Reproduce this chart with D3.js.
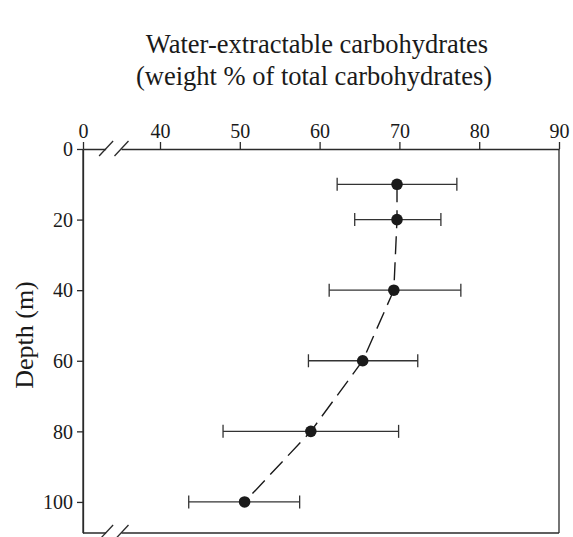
<!DOCTYPE html>
<html><head><meta charset="utf-8">
<script src="https://cdn.jsdelivr.net/npm/d3@7"></script>
<style>body{margin:0;background:#fff}svg{display:block}</style>
</head><body>
<svg id="c" width="573" height="537"></svg>
<script>
// data
const depths = [10, 20, 40, 60, 80, 100];
const means  = [69.7, 69.7, 69.3, 65.4, 58.9, 50.6];
const lows   = [62.2, 64.4, 61.2, 58.6, 47.9, 43.6];
const highs  = [77.2, 75.2, 77.7, 72.3, 69.9, 57.5];
const xTicks = [0, 40, 50, 60, 70, 80, 90];
const yTicks = [0, 20, 40, 60, 80, 100];
const titleLines = ["Water-extractable carbohydrates", "(weight % of total carbohydrates)"];
const yTitle = "Depth (m)";

const svg = d3.select("#c");
const L = 83, R = 559, T = 149, B = 533;
const font = "'Liberation Serif','Times New Roman',serif";
const ink = "#2a2a2a";

// broken x scale: 0 at frame edge, 40..90 linear
const x = d3.scaleLinear().domain([0, 40, 90]).range([L, 160, R]);
const y = d3.scaleLinear().domain([0, 108.8]).range([T, B]);

// title
svg.append("g").selectAll("text").data(titleLines).join("text")
  .attr("x", (d,i)=> i===0 ? 317 : 314)
  .attr("y", (d,i)=> 53 + i*32)
  .attr("text-anchor","middle")
  .attr("font-family", font).attr("font-size", 26.5).attr("fill", "#1a1a1a")
  .text(d=>d);

// y title
svg.append("text")
  .attr("transform", "translate(33,335) rotate(-90)")
  .attr("text-anchor","middle")
  .attr("font-family", font).attr("font-size", 26).attr("fill", "#1a1a1a")
  .text(yTitle);

// frame: left, right, bottom
const frame = svg.append("g").attr("stroke", ink).attr("stroke-width", 1.3).attr("fill","none");
frame.append("line").attr("x1", L).attr("x2", L).attr("y1", T).attr("y2", B);
frame.append("line").attr("x1", R).attr("x2", R).attr("y1", T).attr("y2", B);
frame.append("line").attr("x1", L).attr("x2", R).attr("y1", B).attr("y2", B);

// top axis
const gx = svg.append("g").attr("transform", `translate(0,${T})`)
  .call(d3.axisTop(x).tickValues(xTicks).tickSize(7).tickSizeOuter(0).tickFormat(d3.format("d")));
gx.select(".domain").attr("stroke", ink).attr("stroke-width", 1.3);
gx.selectAll(".tick line").attr("stroke", ink).attr("stroke-width", 1.3);
gx.selectAll(".tick text").attr("font-family", font).attr("font-size", 20).attr("fill", "#1a1a1a").attr("dy", "-0.05em");

// left axis
const gy = svg.append("g").attr("transform", `translate(${L},0)`)
  .call(d3.axisLeft(y).tickValues(yTicks).tickSize(6).tickSizeOuter(0));
gy.select(".domain").attr("stroke", ink).attr("stroke-width", 1.3);
gy.selectAll(".tick line").attr("stroke", ink).attr("stroke-width", 1.3);
gy.selectAll(".tick text").attr("font-family", font).attr("font-size", 20).attr("fill", "#1a1a1a").attr("x", -10).attr("dy", "0.34em");

// axis breaks (top and bottom)
function brk(yy) {
  const g = svg.append("g");
  const a = x(12), b = x(20);
  g.append("rect").attr("x", a).attr("y", yy-3).attr("width", b-a).attr("height", 6).attr("fill", "#fff");
  [a, b].forEach(cx=>{
    g.append("line").attr("x1", cx-7).attr("y1", yy+7).attr("x2", cx+7).attr("y2", yy-8)
      .attr("stroke", ink).attr("stroke-width", 1.3);
  });
}
brk(T); brk(B);

// data
const data = depths.map((d,i)=>({d, m:means[i], lo:lows[i], hi:highs[i]}));

// dashed line
svg.append("path").datum(data)
  .attr("d", d3.line().x(p=>x(p.m)).y(p=>y(p.d)))
  .attr("fill","none").attr("stroke", "#1a1a1a").attr("stroke-width", 1.4)
  .attr("stroke-dasharray", "18,8");

// error bars
const eb = svg.append("g").attr("stroke", "#333").attr("stroke-width", 1.3);
eb.selectAll(".h").data(data).join("line")
  .attr("x1", p=>x(p.lo)).attr("x2", p=>x(p.hi)).attr("y1", p=>y(p.d)).attr("y2", p=>y(p.d));
eb.selectAll(".cl").data(data).join("line")
  .attr("x1", p=>x(p.lo)).attr("x2", p=>x(p.lo)).attr("y1", p=>y(p.d)-6.5).attr("y2", p=>y(p.d)+6.5);
eb.selectAll(".cr").data(data).join("line")
  .attr("x1", p=>x(p.hi)).attr("x2", p=>x(p.hi)).attr("y1", p=>y(p.d)-6.5).attr("y2", p=>y(p.d)+6.5);

// points
svg.append("g").selectAll("circle").data(data).join("circle")
  .attr("cx", p=>x(p.m)).attr("cy", p=>y(p.d)).attr("r", 5.8).attr("fill", "#1a1a1a");
</script>
</body></html>
